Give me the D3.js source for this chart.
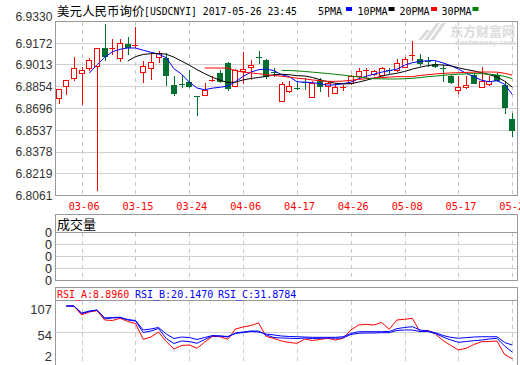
<!DOCTYPE html>
<html><head><meta charset="utf-8">
<script src="https://cdn.jsdelivr.net/npm/d3@7"></script>
<style>body{margin:0;background:#fff}svg{display:block}</style>
</head><body>
<svg id="c" width="520" height="365"></svg>
<script>
const dates = ["03-01","03-02","03-03","03-06","03-07","03-08","03-09","03-10","03-13","03-14","03-15","03-16","03-17","03-20","03-21","03-22","03-23","03-24","03-27","03-28","03-29","03-30","03-31","04-05","04-06","04-07","04-10","04-11","04-12","04-13","04-14","04-17","04-18","04-19","04-20","04-21","04-24","04-25","04-26","04-27","04-28","05-02","05-03","05-04","05-05","05-08","05-09","05-10","05-11","05-12","05-15","05-16","05-17","05-18","05-19","05-22","05-23","05-24","05-25","05-26"];
const xLabels = ["03-06","03-15","03-24","04-06","04-17","04-26","05-08","05-17","05-26"];
const yTicks = [6.8061,6.8219,6.8378,6.8537,6.8696,6.8854,6.9013,6.9172,6.9330];
const open  = [6.8771,6.8856,6.8911,6.8953,6.8984,6.9002,6.9135,6.9123,6.9060,6.9159,6.9155,6.8958,6.8984,6.9067,6.9060,6.8865,6.8870,6.8882,6.8780,6.8792,6.8898,6.8951,6.9024,6.8858,6.8962,6.8992,6.9070,6.9043,6.8958,6.8744,6.8822,6.8844,6.8884,6.8774,6.8889,6.8858,6.8805,6.8847,6.8878,6.8926,6.8962,6.8946,6.8938,6.8970,6.8970,6.8995,6.9077,6.9053,6.9037,6.9016,6.8984,6.8931,6.8829,6.8846,6.8933,6.8849,6.8873,6.8938,6.8865,6.8615];
const high  = [6.8831,6.8903,6.9067,6.8994,6.9057,6.9135,6.9305,6.9196,6.9199,6.9213,6.9286,6.9038,6.9091,6.9110,6.9099,6.8926,6.8938,6.8975,6.8783,6.8878,6.8931,6.8975,6.9028,6.8980,6.9101,6.9048,6.9108,6.9053,6.8987,6.8882,6.8889,6.8887,6.8914,6.8889,6.8914,6.8889,6.8878,6.8865,6.8938,6.8987,6.8989,6.8975,6.8992,6.8987,6.9055,6.9067,6.9186,6.9091,6.9067,6.9040,6.9011,6.8938,6.8926,6.8926,6.8951,6.8994,6.8926,6.8951,6.8889,6.8659];
const low   = [6.8729,6.8800,6.8902,6.8727,6.8970,6.8099,6.9043,6.9086,6.9035,6.9091,6.9140,6.8885,6.8904,6.9031,6.8865,6.8792,6.8847,6.8851,6.8643,6.8792,6.8889,6.8885,6.8829,6.8853,6.8878,6.8907,6.9024,6.8914,6.8931,6.8744,6.8812,6.8834,6.8834,6.8773,6.8817,6.8780,6.8805,6.8829,6.8873,6.8922,6.8922,6.8938,6.8935,6.8951,6.8962,6.8992,6.9048,6.9011,6.9004,6.8995,6.8889,6.8878,6.8805,6.8841,6.8876,6.8849,6.8865,6.8889,6.8659,6.8493];
const close = [6.8831,6.8900,6.8984,6.8970,6.9046,6.9130,6.9075,6.9135,6.9169,6.9143,6.9158,6.9002,6.9033,6.9097,6.8933,6.8805,6.8862,6.8853,6.8774,6.8824,6.8902,6.8889,6.8841,6.8975,6.8980,6.9011,6.9062,6.8926,6.8953,6.8873,6.8858,6.8840,6.8880,6.8878,6.8853,6.8878,6.8849,6.8849,6.8926,6.8962,6.8976,6.8968,6.8987,6.8965,6.9024,6.9053,6.9081,6.9024,6.9033,6.8999,6.8980,6.8882,6.8849,6.8865,6.8878,6.8889,6.8895,6.8902,6.8703,6.8532];
const ma5  = [null,null,null,null,6.8951,6.9011,6.9066,6.9106,6.9124,6.9133,6.9133,6.9117,6.9102,6.9088,6.9062,6.8982,6.8942,6.8884,6.8841,6.8829,6.8840,6.8847,6.8855,6.8887,6.8926,6.8957,6.8975,6.8979,6.8968,6.8938,6.8924,6.8887,6.8884,6.8880,6.8873,6.8862,6.8865,6.8873,6.8884,6.8909,6.8927,6.8942,6.8957,6.8968,6.8979,6.9008,6.9026,6.9035,6.9041,6.9041,6.9024,6.9004,6.8979,6.8949,6.8924,6.8898,6.8887,6.8895,6.8869,6.8793];
const ma10 = [null,null,null,null,null,null,null,null,null,6.9038,6.9070,6.9086,6.9092,6.9093,6.9088,6.9066,6.9037,6.9008,6.8975,6.8946,6.8920,6.8898,6.8881,6.8884,6.8900,6.8911,6.8918,6.8926,6.8938,6.8942,6.8938,6.8931,6.8929,6.8918,6.8902,6.8887,6.8876,6.8871,6.8873,6.8884,6.8898,6.8913,6.8927,6.8940,6.8949,6.8962,6.8979,6.8993,6.9004,6.9011,6.9009,6.9003,6.8989,6.8976,6.8966,6.8953,6.8938,6.8922,6.8891,6.8847];
const ma20 = [null,null,null,null,null,null,null,null,null,null,null,null,null,null,null,null,null,null,null,6.8987,6.8987,6.8987,6.8987,6.8968,6.8957,6.8951,6.8946,6.8938,6.8933,6.8927,6.8920,6.8913,6.8908,6.8900,6.8895,6.8890,6.8890,6.8892,6.8897,6.8904,6.8909,6.8914,6.8917,6.8921,6.8924,6.8924,6.8924,6.8933,6.8938,6.8944,6.8948,6.8951,6.8953,6.8955,6.8957,6.8958,6.8958,6.8957,6.8949,6.8935];
const ma30 = [null,null,null,null,null,null,null,null,null,null,null,null,null,null,null,null,null,null,null,null,null,null,null,null,null,null,null,null,null,6.8970,6.8969,6.8966,6.8962,6.8957,6.8952,6.8947,6.8941,6.8935,6.8928,6.8922,6.8914,6.8909,6.8908,6.8907,6.8907,6.8909,6.8912,6.8917,6.8924,6.8928,6.8934,6.8938,6.8942,6.8944,6.8946,6.8946,6.8942,6.8937,6.8926,6.8909];
const volume = dates.map(() => 0);
const volTickLabels = ["0","0","0","0","0"];
const rsiA = [null,97.0,97.0,82.0,87.0,89.2,73.7,72.8,76.5,71.2,67.8,41.5,45.3,53.7,37.8,25.3,31.2,32.0,26.5,37.0,46.2,45.8,41.5,58.7,62.0,64.5,68.7,46.2,42.8,38.7,36.2,34.8,42.0,39.5,41.2,43.2,40.3,43.2,57.0,65.3,66.5,65.3,69.5,58.2,73.7,74.8,76.5,54.2,56.5,50.3,39.5,31.2,23.7,26.5,32.8,37.5,37.8,38.7,16.2,8.896];
const rsiB = [null,97.0,97.0,84.5,87.8,90.3,76.2,77.0,77.8,73.7,72.0,52.8,55.3,59.5,42.8,34.5,38.7,37.8,34.8,41.2,47.0,47.0,45.3,52.0,53.7,55.3,55.3,48.7,44.5,43.7,43.2,42.8,43.7,42.8,43.2,43.7,43.2,43.7,49.5,51.5,52.0,52.0,52.5,52.5,56.2,57.0,57.0,54.5,54.5,51.2,45.3,40.3,36.5,37.8,39.2,40.3,42.0,43.2,30.3,20.147];
const rsiC = [null,97.0,97.0,85.3,88.7,90.3,77.0,77.8,78.2,74.5,72.8,57.0,58.7,61.2,50.3,42.8,45.3,44.5,41.2,44.5,47.8,47.0,46.2,51.2,52.8,54.5,53.7,50.3,48.7,47.0,46.2,45.8,45.3,44.8,44.8,44.8,44.8,45.8,51.2,54.2,54.2,54.2,54.2,54.5,59.2,61.2,62.5,57.0,55.3,52.5,47.8,44.8,43.2,44.2,45.3,45.8,45.8,45.8,36.2,31.8784];
const rsiTicks = [2,54,107];
const rsiLast = ["RSI_A:8.8960","RSI_B:20.1470","RSI_C:31.8784"];

const RED="#ff0000", GREEN="#007030", BLUE="#0000ff", GRID="#d2d2d2", FRAME="#999";
const L=55.5, R=517.5;
const svg = d3.select("#c");

const x = d3.scalePoint().domain(dates).range([58.6, 512.3]);
const y = d3.scaleLinear().domain([6.8061, 6.9330]).range([195, 21]);
const yVol = d3.scaleLinear().domain([0, 4]).range([280, 232]);
const yR = d3.scaleLinear().domain([2, 107]).range([363, 300]);
const px = v => Math.round(v) + 0.5;

// watermark
const wm = svg.append("g").attr("fill","#dcdcdc");
wm.append("path").attr("d","M424,40 L436,23 L440,23 L428,40 Z M430,40 L442,23 L446,23 L434,40 Z M418,40 L426,30 L430,30 L422,40 Z");
wm.append("text").attr("x",450).attr("y",36).attr("font-family","Noto Sans CJK SC").attr("font-weight","bold").attr("font-size",13).text("东方财富网");
wm.append("text").attr("x",455).attr("y",44.5).attr("font-family","DejaVu Sans").attr("font-weight","bold").attr("font-style","italic").attr("font-size",7)
  .attr("textLength",60).attr("lengthAdjust","spacingAndGlyphs").text("eastmoney.com");

// ---------- MAIN PANEL ----------
const gMain = svg.append("g");
gMain.selectAll("line.hg").data(yTicks).join("line")
  .attr("x1",L).attr("x2",R).attr("y1",d=>px(y(d))).attr("y2",d=>px(y(d)))
  .attr("stroke",GRID);
function vgrid(g, top, bottom){
  g.selectAll("line.vg").data(xLabels).join("line")
    .attr("x1",d=>px(x(d))).attr("x2",d=>px(x(d))).attr("y1",top).attr("y2",bottom)
    .attr("stroke","#c8c8c8").attr("stroke-dasharray","4,4");
}
vgrid(gMain.append("g"), 22, 195);

// frame
gMain.append("rect").attr("x",L).attr("y",21.5).attr("width",R-L).attr("height",174).attr("fill","none").attr("stroke",FRAME);

// y axis labels
const yAxis = d3.axisLeft(y).tickValues(yTicks).tickSize(0).tickPadding(3).tickFormat(d3.format(".4f"));
const ga = svg.append("g").attr("transform",`translate(${L},0)`).call(yAxis);
ga.select(".domain").remove();
ga.selectAll("text").attr("font-family","Liberation Sans, Arial").attr("font-size",13).attr("fill","#333")
  .attr("textLength",37).attr("lengthAdjust","spacingAndGlyphs")
  .attr("dy", d => d===6.9330 ? "-0.02em" : "0.34em");

// x axis labels
const xAxis = d3.axisBottom(x).tickValues(xLabels).tickSize(0).tickPadding(0);
const gx = svg.append("g").attr("transform","translate(0,195)").call(xAxis);
gx.select(".domain").remove();
gx.selectAll("text").attr("font-family","DejaVu Sans Mono").attr("font-size",10.3).attr("fill",RED)
  .attr("text-anchor","start").attr("x",-13.5).attr("dy",0).attr("y",15);

// candles
const gc = gMain.append("g");
dates.forEach((d,i)=>{
  const cx = Math.round(x(d));
  const up = close[i] >= open[i];
  const col = up ? RED : GREEN;
  gc.append("line").attr("x1",cx+0.5).attr("x2",cx+0.5)
    .attr("y1",Math.round(y(high[i]))).attr("y2",Math.round(y(low[i]))+1).attr("stroke",col);
  const yo = Math.round(y(open[i])), yc = Math.round(y(close[i]));
  const top = Math.min(yo,yc), h = Math.abs(yo-yc);
  if (h < 2) {
    gc.append("rect").attr("x",cx-3).attr("y",top).attr("width",6).attr("height",Math.max(h,1)).attr("fill",col);
  } else if (up) {
    gc.append("rect").attr("x",cx-2.5).attr("y",top+0.5).attr("width",5).attr("height",h).attr("fill","#fff").attr("stroke",col);
  } else {
    gc.append("rect").attr("x",cx-3).attr("y",top).attr("width",6).attr("height",h+1).attr("fill",col);
  }
});

// MA lines
const maLine = d3.line().defined(d=>d!=null).x((d,i)=>x(dates[i])).y(d=>y(d));
[[ma5,BLUE],[ma10,"#000"],[ma20,RED],[ma30,"#008000"]].forEach(([s,c])=>{
  gMain.append("path").datum(s).attr("d",maLine).attr("fill","none").attr("stroke",c).attr("stroke-width",1);
});

// title + legend
svg.append("text").attr("x",57).attr("y",15.5).attr("font-family","Noto Sans CJK SC").attr("font-size",12.5).attr("fill","#000").text("美元人民币询价");
svg.append("text").attr("x",144).attr("y",15).attr("font-family","DejaVu Sans Mono").attr("font-size",10).attr("fill","#000")
  .attr("textLength",153).attr("lengthAdjust","spacingAndGlyphs").text("[USDCNYI] 2017-05-26 23:45");
const legend = [["5PMA",318,346,BLUE],["10PMA",357.5,388.5,"#000"],["20PMA",399.5,431,RED],["30PMA",441.5,472.5,"#008000"]];
legend.forEach(([t,tx,rx,c])=>{
  svg.append("text").attr("x",tx).attr("y",15).attr("font-family","DejaVu Sans Mono").attr("font-size",10).attr("fill","#000").text(t);
  svg.append("rect").attr("x",rx).attr("y",7).attr("width",6).attr("height",4).attr("fill",c);
});

// ---------- VOLUME PANEL ----------
const gV = svg.append("g");
gV.append("rect").attr("x",L).attr("y",214.5).attr("width",R-L).attr("height",18).attr("fill","#fff").attr("stroke",FRAME);
gV.append("text").attr("x",57).attr("y",228.5).attr("font-family","Noto Sans CJK SC").attr("font-size",13).attr("fill","#000").text("成交量");
gV.selectAll("line.vh").data([1,2,3]).join("line").attr("x1",L).attr("x2",R)
  .attr("y1",d=>px(yVol(d))).attr("y2",d=>px(yVol(d))).attr("stroke",GRID);
vgrid(gV.append("g"), 233, 280);
gV.selectAll("rect.vb").data(volume).join("rect").attr("x",(d,i)=>x(dates[i])-3).attr("width",6)
  .attr("y",d=>yVol(d)).attr("height",0).attr("fill",GREEN);
gV.append("rect").attr("x",L).attr("y",232.5).attr("width",R-L).attr("height",48).attr("fill","none").attr("stroke",FRAME);
gV.selectAll("text.vl").data(volTickLabels).join("text").attr("x",52).attr("y",(d,i)=>yVol(i)+4.5)
  .attr("text-anchor","end").attr("font-family","Liberation Sans, Arial").attr("font-size",12.5).attr("fill","#222").text(d=>d);

// ---------- RSI PANEL ----------
const gR = svg.append("g");
gR.append("rect").attr("x",L).attr("y",287.5).attr("width",R-L).attr("height",13).attr("fill","#fff").attr("stroke",FRAME);
[[rsiLast[0],RED,57],[rsiLast[1],BLUE,135],[rsiLast[2],BLUE,218]].forEach(([t,c,tx])=>{
  gR.append("text").attr("x",tx).attr("y",297.5).attr("font-family","DejaVu Sans Mono").attr("font-size",10).attr("fill",c).text(t);
});
gR.append("line").attr("x1",L).attr("x2",R).attr("y1",px(yR(54))).attr("y2",px(yR(54))).attr("stroke",GRID);
vgrid(gR.append("g"), 301, 364);
const rLine = d3.line().defined(d=>d!=null).x((d,i)=>x(dates[i])).y(d=>yR(d));
[[rsiA,RED],[rsiB,BLUE],[rsiC,BLUE]].forEach(([s,c])=>{
  gR.append("path").datum(s).attr("d",rLine).attr("fill","none").attr("stroke",c).attr("stroke-width",1);
});
gR.append("path").attr("d",`M${L},300.5 V365 M${R},300.5 V365`).attr("stroke",FRAME).attr("fill","none");
const rLab = {107: 313.5, 54: 339.5, 2: 360.5};
gR.selectAll("text.rl").data(rsiTicks).join("text").attr("x",52).attr("y",d=>rLab[d])
  .attr("text-anchor","end").attr("font-family","Liberation Sans, Arial").attr("font-size",13).attr("fill","#333").text(d=>d);
</script>
</body></html>
